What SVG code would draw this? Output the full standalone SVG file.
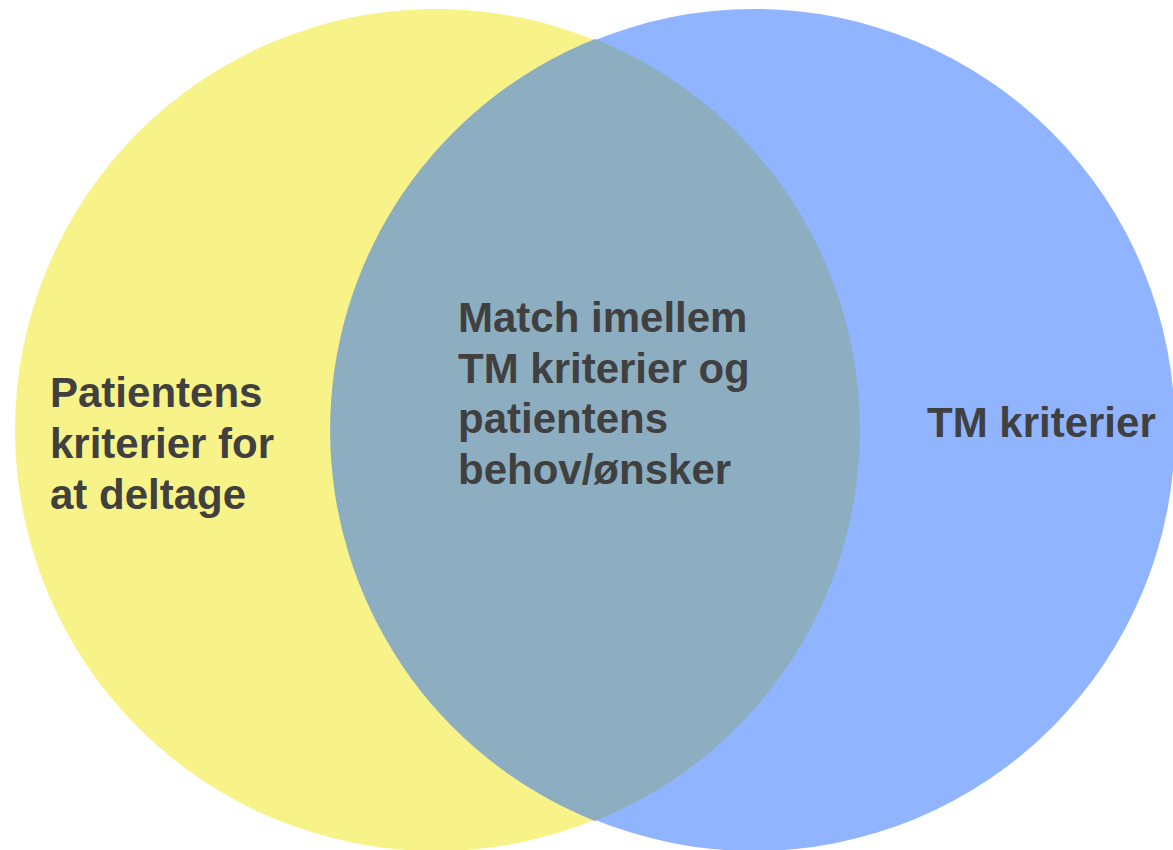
<svg xmlns="http://www.w3.org/2000/svg" width="1173" height="850" viewBox="0 0 1173 850">
<style>
.lbl{font-family:"Liberation Sans",Arial,sans-serif;font-weight:bold;font-size:42px;fill:#404040}
</style>
<rect width="1173" height="850" fill="#ffffff"/>
<g id="left-circle"><circle cx="436" cy="430" r="421" fill="#F7F388"/></g>
<g id="right-circle"><circle cx="754" cy="430" r="421" fill="#90B4FF"/></g>
<g id="overlap"><path d="M595 39 A421 421 0 0 1 595 821 A421 421 0 0 1 595 39 Z" fill="#8DAEC1"/></g>
<g id="connectors"></g>
<g id="left-label"><text class="lbl"><tspan x="50" y="407">Patientens</tspan><tspan x="50" y="458">kriterier for</tspan><tspan x="50" y="509">at deltage</tspan></text></g>
<g id="middle-label"><text class="lbl"><tspan x="458" y="332">Match imellem</tspan><tspan x="458" y="382.5">TM kriterier og</tspan><tspan x="458" y="433">patientens</tspan><tspan x="458" y="483.5">behov/ønsker</tspan></text></g>
<g id="right-label"><text class="lbl" x="927" y="437">TM kriterier</text></g>
</svg>
